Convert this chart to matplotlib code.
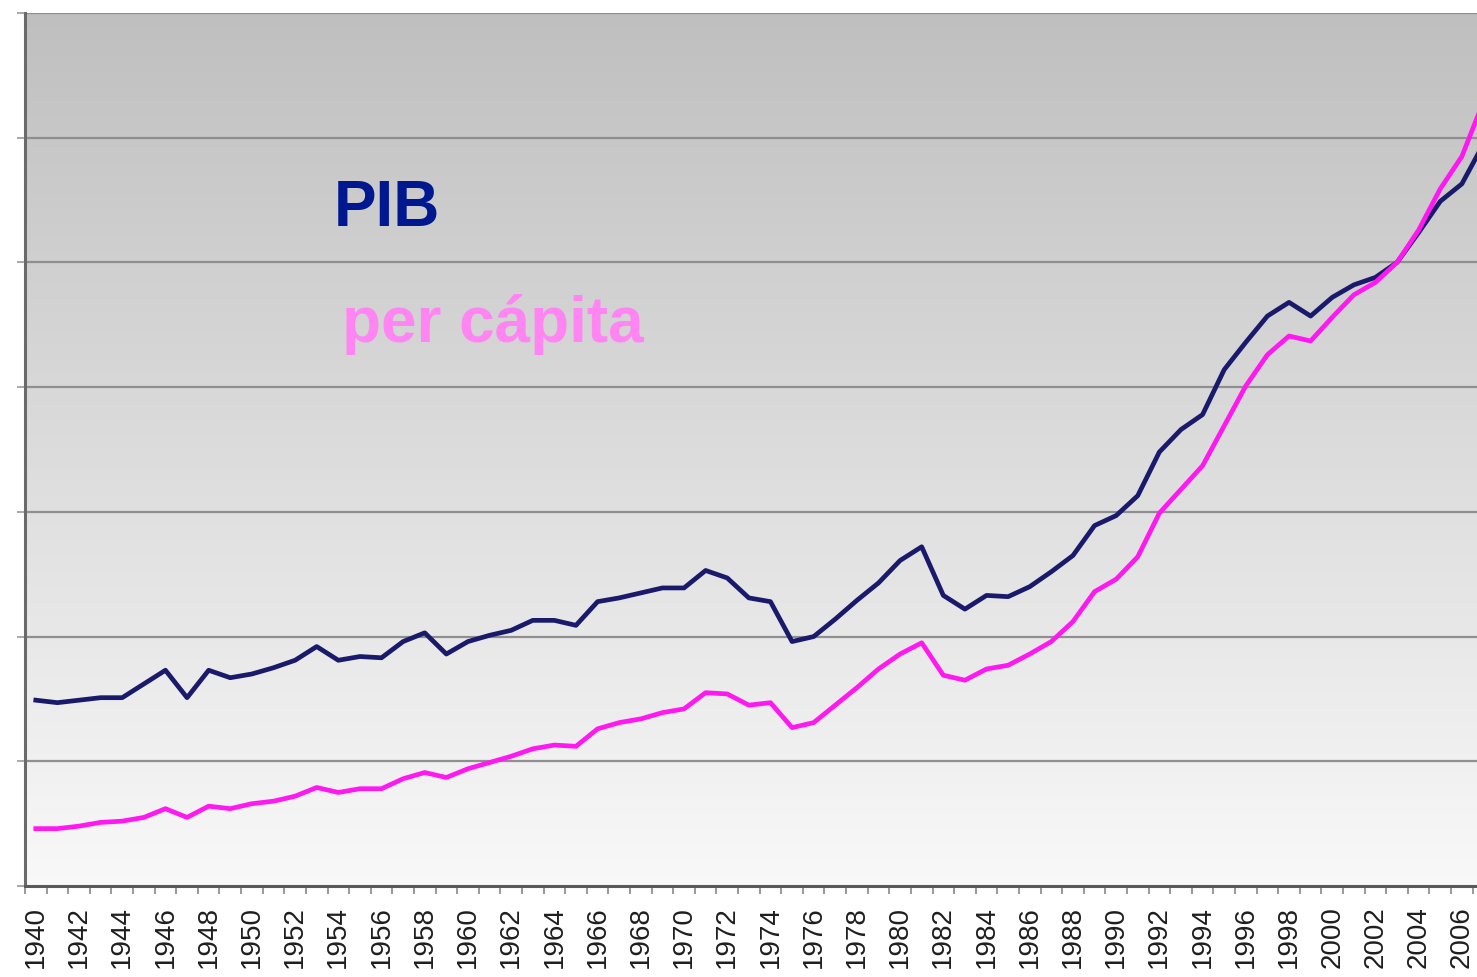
import numpy as np
import matplotlib.pyplot as plt

# years and the two series (arbitrary units, one unit = one gridline step)
years = list(range(1940, 2008))

pib = [1.49, 1.47, 1.49, 1.51, 1.51, 1.62, 1.73, 1.51, 1.73, 1.67,
       1.70, 1.75, 1.81, 1.92, 1.81, 1.84, 1.83, 1.96, 2.03, 1.86,
       1.96, 2.01, 2.05, 2.13, 2.13, 2.09, 2.28, 2.31, 2.35, 2.39,
       2.39, 2.53, 2.47, 2.31, 2.28, 1.96, 2.00, 2.14, 2.29, 2.43,
       2.61, 2.72, 2.33, 2.22, 2.33, 2.32, 2.40, 2.52, 2.65, 2.89,
       2.97, 3.13, 3.48, 3.66, 3.78, 4.14, 4.36, 4.57, 4.68, 4.57,
       4.72, 4.82, 4.88, 5.00, 5.24, 5.49, 5.63, 5.95]

per_capita = [0.46, 0.46, 0.48, 0.51, 0.52, 0.55, 0.62, 0.55, 0.64, 0.62,
              0.66, 0.68, 0.72, 0.79, 0.75, 0.78, 0.78, 0.86, 0.91, 0.87,
              0.94, 0.99, 1.04, 1.10, 1.13, 1.12, 1.26, 1.31, 1.34, 1.39,
              1.42, 1.55, 1.54, 1.45, 1.47, 1.27, 1.31, 1.45, 1.59, 1.74,
              1.86, 1.95, 1.69, 1.65, 1.74, 1.77, 1.86, 1.96, 2.12, 2.36,
              2.46, 2.64, 2.99, 3.18, 3.37, 3.69, 4.01, 4.26, 4.41, 4.37,
              4.56, 4.74, 4.84, 5.00, 5.26, 5.59, 5.85, 6.29]

label_years = list(range(1940, 2007, 2))

plt.rcParams['font.family'] = ['Liberation Sans', 'DejaVu Sans']

fig = plt.figure(figsize=(14.77, 9.78), dpi=100)
ax = fig.add_axes([25 / 1477, 91 / 978, 1 - 25 / 1477, 873 / 978])

x0, x1 = 1939.5, 2006.7
ax.set_xlim(x0, x1)
ax.set_ylim(0, 7)

# grey gradient background, darker at the top
grad = np.linspace(0, 1, 256).reshape(-1, 1)
top = np.array([0.75, 0.75, 0.75])
bottom = np.array([0.975, 0.975, 0.975])
img = top + (bottom - top) * grad
ax.imshow(img[:, None, :].repeat(2, axis=1), extent=[x0, x1, 0, 7],
          aspect='auto', origin='upper', zorder=0)

# gridlines
for g in range(1, 8):
    ax.axhline(g, color='#8f8f8f', lw=1.6, zorder=1)

ax.plot(years, pib, color='#1a1a6c', lw=3.4, zorder=3,
        solid_joinstyle='round')
ax.plot(years, per_capita, color='#ff19f0', lw=3.4, zorder=3,
        solid_joinstyle='round')

ax.text(1953.8, 5.3, 'PIB', color='#00188f', fontsize=46,
        fontweight='bold', zorder=4)
ax.text(1954.15, 4.37, 'per cápita', color='#ff85f2', fontsize=46,
        fontweight='bold', zorder=4)

# spines
for s in ['top', 'right']:
    ax.spines[s].set_visible(False)
ax.spines['left'].set_color('#6a6a6a')
ax.spines['left'].set_linewidth(2.2)
ax.spines['bottom'].set_color('#5a5a5a')
ax.spines['bottom'].set_linewidth(2.2)

# y axis: small outward ticks, no labels
ax.set_yticks(range(0, 8))
ax.set_yticklabels([])
ax.tick_params(axis='y', length=6, width=1.2, color='#999999', direction='out')

# x axis: labels every two years, little ticks between categories
ax.set_xticks(label_years)
ax.set_xticklabels([str(y) for y in label_years], rotation=90, fontsize=20,
                   color='#1e1e1e')
ax.set_xticks(np.arange(1939.5, 2007, 1), minor=True)
ax.tick_params(axis='x', which='major', length=0, pad=14)
ax.tick_params(axis='x', which='minor', length=6, width=1.2,
               color='#888888', direction='out')

fig.savefig('out.png', dpi=100, facecolor='white')
